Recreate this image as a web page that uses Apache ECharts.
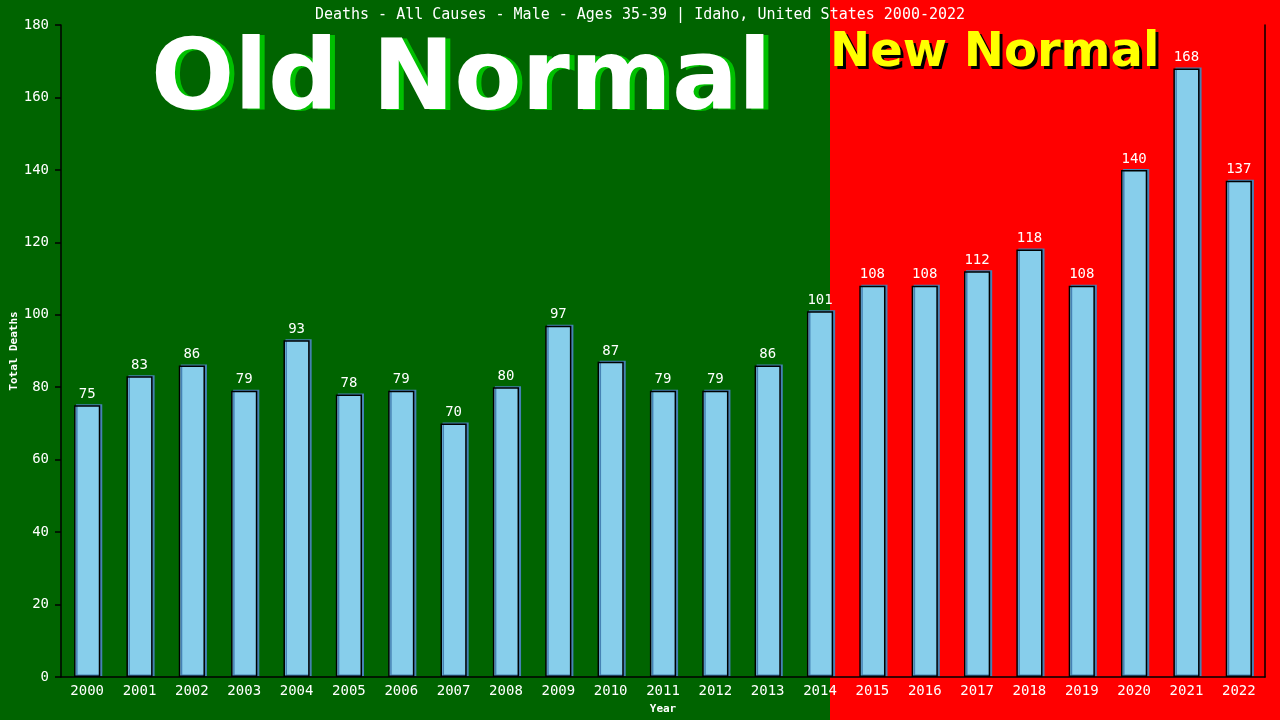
<!DOCTYPE html>
<html>
<head>
<meta charset="utf-8">
<script src="https://cdn.jsdelivr.net/npm/echarts@6/dist/echarts.min.js"></script>
<style>
  html, body { margin: 0; padding: 0; background: #006400; }
  #chart { width: 1280px; height: 720px; }
</style>
</head>
<body>
<div id="chart"></div>
<script>
  // data
  const years = ['2000', '2001', '2002', '2003', '2004', '2005', '2006', '2007', '2008', '2009', '2010', '2011',
    '2012', '2013', '2014', '2015', '2016', '2017', '2018', '2019', '2020', '2021', '2022'];
  const deaths = [75, 83, 86, 79, 93, 78, 79, 70, 80, 97, 87, 79, 79, 86, 101, 108, 108, 112, 118, 108, 140, 168, 137];
  const yTicks = { min: 0, max: 180, step: 20 };

  const mono = '"DejaVu Sans Mono", monospace';
  const chart = echarts.init(document.getElementById('chart'));

  // big caption drawn twice: offset copy as the shadow, then the face
  const caption = (text, left, top, size, face, shade, dx, dy) => [
    {
      type: 'text', z: 1, left: left + dx, top: top + dy,
      style: { text, fill: shade, font: `bold ${size}px "DejaVu Sans"` }
    },
    {
      type: 'text', z: 2, left, top,
      style: { text, fill: face, font: `bold ${size}px "DejaVu Sans"` }
    }
  ];

  chart.setOption({
    backgroundColor: '#006400',
    animation: false,
    title: {
      text: 'Deaths - All Causes - Male - Ages 35-39 | Idaho, United States 2000-2022',
      left: 'center',
      top: 3,
      textStyle: { color: '#fff', fontFamily: mono, fontSize: 15, fontWeight: 'normal' }
    },
    graphic: [
      {
        type: 'rect',
        z: -10,
        shape: { x: 830, y: 0, width: 450, height: 720 },
        style: { fill: '#ff0000' }
      },
      ...caption('Old Normal', 151, 35, 98, '#fff', '#00c000', 5, 1),
      ...caption('New Normal', 830, 30, 48, '#ffff00', '#000', 3, 3)
    ],
    grid: { left: 61, right: 15, top: 25, bottom: 43, outerBoundsMode: 'none', containLabel: false },
    xAxis: {
      type: 'category',
      data: years,
      name: 'Year',
      nameLocation: 'middle',
      nameGap: 27,
      nameMoveOverlap: false,
      nameTextStyle: { color: '#fff', fontFamily: mono, fontSize: 11, fontWeight: 'bold' },
      axisLine: { lineStyle: { color: '#000', width: 1.5 } },
      axisTick: { show: false },
      axisLabel: { color: '#fff', fontFamily: mono, fontSize: 14, margin: 7 }
    },
    yAxis: [
      {
        type: 'value',
        min: yTicks.min,
        max: yTicks.max,
        interval: yTicks.step,
        name: 'Total Deaths',
        nameLocation: 'middle',
        nameGap: 41,
        nameMoveOverlap: false,
        nameTextStyle: { color: '#fff', fontFamily: mono, fontSize: 11, fontWeight: 'bold' },
        axisLine: { show: true, lineStyle: { color: '#000', width: 1.5 } },
        axisTick: { show: true, length: 6, lineStyle: { color: '#000', width: 1.5 } },
        axisLabel: { color: '#fff', fontFamily: mono, fontSize: 14, margin: 12 },
        splitLine: { show: false }
      },
      {
        type: 'value',
        position: 'right',
        min: yTicks.min,
        max: yTicks.max,
        interval: yTicks.step,
        axisLine: { show: true, lineStyle: { color: '#000', width: 1.5 } },
        axisTick: { show: false },
        axisLabel: { show: false },
        splitLine: { show: false }
      }
    ],
    series: [
      {
        type: 'bar',
        data: deaths,
        barWidth: '50%',
        itemStyle: {
          color: '#87ceeb',
          borderColor: '#000',
          borderWidth: 1.5,
          shadowColor: '#4682b4',
          shadowOffsetX: 2,
          shadowOffsetY: -1
        },
        label: {
          show: true,
          position: 'top',
          distance: 4,
          color: '#fff',
          fontFamily: mono,
          fontSize: 14
        }
      }
    ]
  });
</script>
</body>
</html>
